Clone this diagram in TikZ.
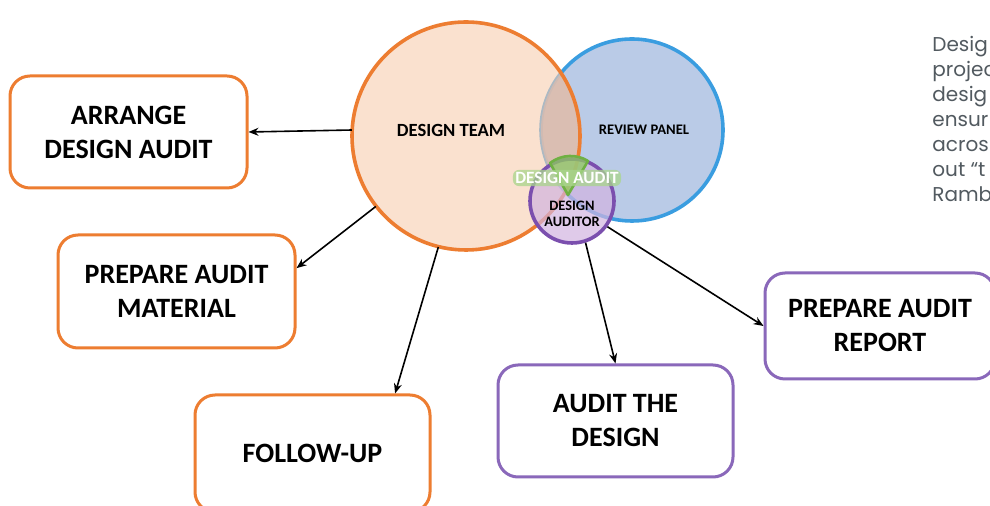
\documentclass[tikz,border=0pt]{standalone}
\usepackage{fontspec}
\setmainfont{Carlito}
\newfontfamily\pop{Poppins}
\usetikzlibrary{arrows.meta}
\definecolor{orS}{HTML}{ED7D31}
\definecolor{orF}{HTML}{F8CDB0}
\definecolor{blS}{HTML}{3A9DE0}
\definecolor{blF}{HTML}{BACBE7}
\definecolor{ovF}{HTML}{D9BBAE}
\definecolor{puS}{HTML}{7B4FAE}
\definecolor{puB}{HTML}{8A68BA}
\definecolor{puF}{HTML}{D2B4E0}
\definecolor{grS}{HTML}{6FB043}
\definecolor{grF}{HTML}{8FCB5E}
\definecolor{glowc}{HTML}{A9D68C}
\definecolor{txtgray}{HTML}{525A60}
\definecolor{hblue}{HTML}{1E9FE3}
\tikzset{
  taskbox/.style={draw, rounded corners=10pt, line width=1.5pt, align=center,
    inner sep=0pt, font=\bfseries\fontsize{14}{17}\selectfont, text=black},
  orbox/.style={taskbox, draw=orS},
  pubox/.style={taskbox, draw=puB},
  conn/.style={-{Stealth[length=5pt,width=4pt]}, line width=0.8pt, black},
  circlbl/.style={font=\bfseries, align=center, inner sep=0pt},
  auditlbl/.style={font=\bfseries\fontsize{8.6}{9}\selectfont, inner sep=1.2pt},
  paraline/.style={anchor=base west, inner sep=0pt, text=txtgray, font=\pop\fontsize{10}{12}\selectfont}
}
\begin{document}
\begin{tikzpicture}[x=0.5pt,y=-0.5pt]
\useasboundingbox (0,0) rectangle (990,506);
\fill[white] (0,0) rectangle (990,506);
\clip (0,0) rectangle (990,506);

% circles
\node[circle, minimum size=91pt, inner sep=0pt, fill=blF, draw=blS, line width=1.8pt] (rp) at (632,130) {};
\node[circle, minimum size=114pt, inner sep=0pt, fill=orF, fill opacity=0.6] (dt) at (466,136) {};
\begin{scope}
  \clip (632,130) circle (45.5pt);
  \fill[ovF, opacity=0.8] (466,136) circle (57pt);
\end{scope}
\draw[orS, line width=1.8pt] (466,136) circle (57pt);
\node[circle, minimum size=42pt, inner sep=0pt, fill=puF, fill opacity=0.7, draw=puS, draw opacity=1, line width=1.8pt] (da) at (572,201) {};

% green wedge
\path[draw=grS, fill=grF, fill opacity=0.75, line width=1.3pt, line join=round]
  (550,163) .. controls (562,154) and (577,154) .. (588,161) -- (568,195) -- cycle;

% circle labels
\node[circlbl, font=\bfseries\fontsize{9.3}{10}\selectfont] (dtl) at (451,130) {DESIGN TEAM};
\node[circlbl, font=\bfseries\fontsize{7.3}{8}\selectfont] (rpl) at (644,130) {REVIEW PANEL};
\node[circlbl, font=\bfseries\fontsize{7.2}{8}\selectfont] (dal2) at (572,214) {DESIGN\\AUDITOR};
\node[auditlbl, text=white, fill=glowc, fill opacity=0.75, text opacity=1, rounded corners=3pt] (dal) at (567,178) {DESIGN AUDIT};

% task boxes
\node[orbox, minimum width=118.5pt, minimum height=56pt] (b1) at (128.5,132) {ARRANGE\\DESIGN AUDIT};
\node[orbox, minimum width=118.5pt, minimum height=56.5pt] (b2) at (176.5,291.5) {PREPARE AUDIT\\MATERIAL};
\node[orbox, minimum width=117.5pt, minimum height=58.5pt] (b3) at (312.5,453.5) {FOLLOW-UP};
\node[pubox, minimum width=117.5pt, minimum height=56pt] (b4) at (615.5,421) {AUDIT THE\\DESIGN};
\node[pubox, minimum width=115pt, minimum height=53pt] (b5) at (880,326) {PREPARE AUDIT\\REPORT};

% connectors
\draw[conn] (dt.177) -- (b1.east);
\draw[conn] (dt.218) -- (b2.11);
\draw[conn] (dt.256) -- (b3.36);
\draw[conn] (da.288) -- (b4.north);
\draw[conn] (da.324) -- (b5.west);

% clipped page text on the right
\node[anchor=base west, inner sep=0pt, text=hblue, font=\pop\fontsize{20}{20}\selectfont] (hd) at (931,-3) {De};
\node[paraline] (p1) at (932,52) {Desig};
\node[paraline] (p2) at (932,77) {projec};
\node[paraline] (p3) at (932,102) {desig};
\node[paraline] (p4) at (932,127) {ensur};
\node[paraline] (p5) at (932,152) {acros};
\node[paraline] (p6) at (932,177) {out “t};
\node[paraline] (p7) at (932,202) {Ramb};
\end{tikzpicture}
\end{document}
